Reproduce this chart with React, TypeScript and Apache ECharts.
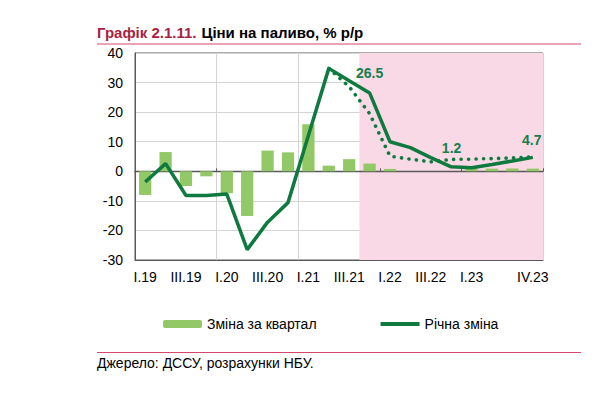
import React, { useEffect, useRef } from "react";
import * as echarts from "echarts";

const categories = [
  "I.19", "II.19", "III.19", "IV.19",
  "I.20", "II.20", "III.20", "IV.20",
  "I.21", "II.21", "III.21", "IV.21",
  "I.22", "II.22", "III.22", "IV.22",
  "I.23", "II.23", "III.23", "IV.23",
];

// Зміна за квартал (bars)
const quarterlyChange = [-8.0, 6.5, -5.0, -1.7, -7.4, -15.1, 7.0, 6.4, 15.9, 1.9, 4.1, 2.6, 0.8, 0, 0, 0, 0.9, 0.9, 0.9, 0.9];
// Річна зміна (solid line)
const annualChange = [-3.6, 2.6, -8.2, -8.2, -7.7, -26.5, -17.2, -10.6, 12.1, 34.8, 30.6, 26.5, 10.0, 8.0, 4.6, 1.5, 1.2, 2.3, 3.5, 4.7];
// previous forecast (dotted line)
const previousForecast = [null, null, null, null, null, null, null, null, null, 34.8, 28.6, 19.5, 5.1, 4.1, 3.2, 4.0, 4.1, 4.3, 4.5, 4.9];

const labeledPoints = ["IV.21", "I.23", "IV.23"];
const shadedRange = ["IV.21", "IV.23"];
const yTicks = { min: -30, max: 40, step: 10 };

const seriesNames = ["Зміна за квартал", "Річна зміна"];
const titleRed = "Графік 2.1.11.";
const titleBlack = "Ціни на паливо, % р/р";
const sourceText = "Джерело: ДССУ, розрахунки НБУ.";

const FONT = "'Liberation Sans', Arial, Helvetica, sans-serif";
const LINE_GREEN = "#0f7a3f";
const BAR_GREEN = "#92c865";
const LABEL_GREEN = "#13804c";
const PINK = "#fad9e6";
const GRID_GREY = "#d4d4d4";
const AXIS_GREY = "#595959";
const CRIMSON = "#d8466a";

const labelOffsets: Record<string, number[]> = {
  "IV.21": [0, 0],
  "I.23": [-20, 0],
  "IV.23": [-1, 2],
};

export default function App() {
  const ref = useRef<HTMLDivElement>(null);

  useEffect(() => {
    if (!ref.current) return;
    const chart = echarts.init(ref.current, undefined, { renderer: "svg" });

    const yearBoundary = (i: number) => i % 4 === 0;
    const startIdx = categories.indexOf(shadedRange[0]);
    const endIdx = categories.indexOf(shadedRange[1]);

    const markData = labeledPoints.map((c) => {
      const v = annualChange[categories.indexOf(c)];
      return {
        coord: [c, v],
        value: v,
        label: { offset: labelOffsets[c] },
      };
    });

    chart.setOption({
      animation: false,
      textStyle: { fontFamily: FONT },
      title: {
        text: `{a|${titleRed}} {b|${titleBlack}}`,
        left: 97,
        top: 23,
        padding: 0,
        textStyle: {
          rich: {
            a: { color: "#a81f44", fontWeight: "bold", fontSize: 15, fontFamily: FONT },
            b: { color: "#000", fontWeight: "bold", fontSize: 15, fontFamily: FONT },
          },
        },
      },
      legend: {
        data: [
          { name: seriesNames[0] },
          { name: seriesNames[1], itemStyle: { opacity: 0 }, lineStyle: { width: 4, color: LINE_GREEN } },
        ],
        left: 163,
        top: 317,
        itemWidth: 39,
        itemHeight: 8,
        itemGap: 62,
        padding: 0,
        textStyle: { fontSize: 14, color: "#000", fontFamily: FONT },
      },
      grid: {
        left: 135,
        right: 51,
        top: 53,
        bottom: 133,
        show: true,
        borderColor: AXIS_GREY,
        borderWidth: 1,
        backgroundColor: "transparent",
      },
      xAxis: [
        {
          type: "category",
          data: categories,
          position: "bottom",
          boundaryGap: true,
          axisLine: { onZero: false, lineStyle: { color: AXIS_GREY } },
          axisTick: { show: false },
          axisLabel: {
            interval: (i: number) => (i % 2 === 0 && i < 18) || i === 19,
            color: "#000",
            fontSize: 14,
            margin: 10,
            fontFamily: FONT,
          },
          splitLine: {
            show: true,
            interval: (i: number) => yearBoundary(i),
            lineStyle: { color: GRID_GREY, width: 1 },
          },
        },
        {
          type: "category",
          data: categories,
          position: "bottom",
          boundaryGap: true,
          axisLine: { onZero: true, lineStyle: { color: AXIS_GREY, width: 1.3 } },
          axisTick: { show: true, inside: true, length: 3, interval: (i: number) => yearBoundary(i), lineStyle: { color: AXIS_GREY } },
          axisLabel: { show: false },
          splitLine: { show: false },
        },
      ],
      yAxis: {
        type: "value",
        min: yTicks.min,
        max: yTicks.max,
        interval: yTicks.step,
        axisLine: { show: true, lineStyle: { color: AXIS_GREY } },
        axisTick: { show: false },
        axisLabel: { color: "#000", fontSize: 14, margin: 12, fontFamily: FONT },
        splitLine: { show: true, lineStyle: { color: GRID_GREY, width: 1 } },
      },
      series: [
        {
          type: "custom",
          name: "shade",
          silent: true,
          z: 0,
          xAxisIndex: 0,
          data: [[startIdx, 0, endIdx]],
          encode: { x: 0, y: 1 },
          renderItem: (params: any, api: any) => {
            const s = api.coord([api.value(0), 0]);
            const e = api.coord([api.value(2), 0]);
            const band = api.size([1, 0])[0];
            const cs = params.coordSys;
            return {
              type: "rect",
              shape: { x: s[0] - band / 2, y: cs.y, width: e[0] - s[0] + band, height: cs.height },
              style: { fill: PINK },
            };
          },
        },
        {
          type: "bar",
          name: seriesNames[0],
          data: quarterlyChange,
          barWidth: "60%",
          itemStyle: { color: BAR_GREEN },
          z: 2,
        },
        {
          type: "line",
          name: "forecast",
          data: previousForecast,
          symbol: "none",
          connectNulls: false,
          lineStyle: { color: LINE_GREEN, width: 3.6, type: [0.1, 7.4], cap: "round" },
          z: 3,
        },
        {
          type: "line",
          name: seriesNames[1],
          data: annualChange,
          symbol: "none",
          lineStyle: { color: LINE_GREEN, width: 3.5 },
          itemStyle: { color: LINE_GREEN },
          z: 4,
          markPoint: {
            symbol: "circle",
            symbolSize: 1,
            silent: true,
            itemStyle: { color: "rgba(0,0,0,0)" },
            label: {
              show: true,
              position: "top",
              distance: 12,
              formatter: (p: any) => Number(p.value).toFixed(1),
              color: LABEL_GREEN,
              fontSize: 14,
              fontWeight: "bold",
              fontFamily: FONT,
            },
            data: markData,
          },
        },
      ],
      graphic: [
        {
          type: "line",
          shape: { x1: 97, y1: 44, x2: 581, y2: 44 },
          style: { stroke: CRIMSON, lineWidth: 1 },
        },
        {
          type: "line",
          shape: { x1: 97, y1: 352.5, x2: 581, y2: 352.5 },
          style: { stroke: CRIMSON, lineWidth: 1 },
        },
        {
          type: "text",
          left: 97,
          top: 356,
          style: { text: sourceText, fill: "#000", font: `14px ${FONT}` },
        },
      ],
    });

    return () => chart.dispose();
  }, []);

  return (
    <div
      ref={ref}
      style={{ position: "absolute", left: 0, top: 0, width: 594, height: 393, background: "#fff" }}
    />
  );
}
